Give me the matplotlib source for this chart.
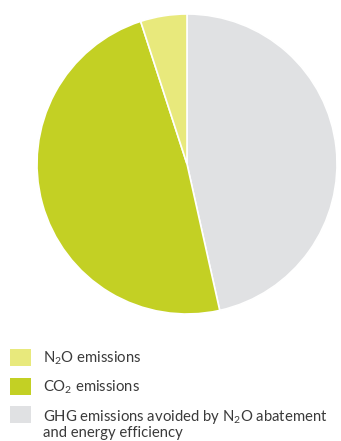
import matplotlib
matplotlib.use("Agg")
import matplotlib.pyplot as plt
from matplotlib.patches import Rectangle

plt.rcParams["font.family"] = ["Lato", "DejaVu Sans"]
plt.rcParams["mathtext.fontset"] = "custom"
plt.rcParams["mathtext.rm"] = "Lato"
plt.rcParams["mathtext.it"] = "Lato:italic"

# share of emissions (%), clockwise from 12 o'clock
labels = [
    "GHG emissions avoided by N$_2$O abatement\nand energy efficiency",
    "CO$_2$ emissions",
    "N$_2$O emissions",
]
values = [46.5, 48.5, 5.0]
colors = ["#e0e1e3", "#c3d024", "#e8e97c"]

W, H = 341, 441
fig = plt.figure(figsize=(W / 100, H / 100), dpi=100)

cx, cy, r = 187, 164, 150
ax = fig.add_axes([(cx - r) / W, (H - cy - r) / H, 2 * r / W, 2 * r / H])
ax.pie(values, colors=colors, startangle=90, counterclock=False,
       radius=1, wedgeprops=dict(edgecolor="white", linewidth=1.2))
ax.set_xlim(-1, 1)
ax.set_ylim(-1, 1)
ax.set_aspect("equal")
ax.axis("off")

# legend drawn by hand, top to bottom: N2O, CO2, GHG
legend_rows = [(2, 349), (1, 378), (0, 406)]
for idx, top in legend_rows:
    fig.add_artist(Rectangle((10 / W, (H - top - 17) / H), 21 / W, 17 / H,
                             transform=fig.transFigure, color=colors[idx], lw=0))
    y = (H - top - 9) / H if idx else (H - top - 18) / H
    fig.text(43 / W, y, labels[idx], fontsize=10.7, color="#3a3a3a",
             va="center", ha="left", linespacing=0.95)

fig.savefig("out.png", dpi=100)
